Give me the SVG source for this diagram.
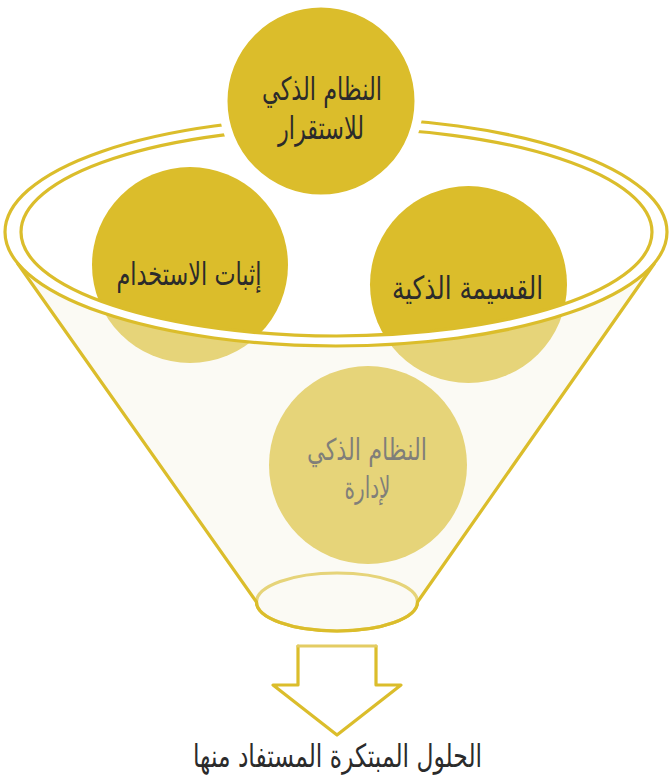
<svg xmlns="http://www.w3.org/2000/svg" width="669" height="779" viewBox="0 0 669 779">
<style>
.gold{fill:#dbbd2b}
.lbl{font-family:"DejaVu Sans Condensed","DejaVu Sans",sans-serif;font-size:32px;fill:#2b2b2b;text-anchor:middle}
.sm{font-size:30px}
.line{fill:none;stroke:#dbbd2b;stroke-width:3.2;stroke-linejoin:round;stroke-linecap:round}
</style>
<rect width="669" height="779" fill="#ffffff"/>
<g id="node-usage">
<circle class="gold" cx="190" cy="265" r="98"/>
<text class="lbl" x="189" y="285" textLength="145" lengthAdjust="spacingAndGlyphs">إثبات الاستخدام</text>
</g>
<g id="node-voucher">
<circle class="gold" cx="468.5" cy="284.5" r="98.5"/>
<text class="lbl" x="467.5" y="299" textLength="151" lengthAdjust="spacingAndGlyphs">القسيمة الذكية</text>
</g>
<g id="node-manage">
<circle class="gold" cx="368" cy="465" r="99"/>
<text class="lbl sm" x="367" y="460" textLength="120" lengthAdjust="spacingAndGlyphs">النظام الذكي</text>
<text class="lbl sm" x="367.5" y="498" textLength="46" lengthAdjust="spacingAndGlyphs">لإدارة</text>
</g>
<g id="funnel">
<ellipse cx="337" cy="602" rx="80.5" ry="29" class="line"/>
<path d="M18,264 L256.5,602 A80.5,29 0 0 0 417.5,602 L654,264 A331,114 0 0 1 18,264 Z" fill="#f5f3e4" fill-opacity="0.42"/>
<path d="M336,118 A331,114 0 1 0 336,346 A331,114 0 1 0 336,118 Z M336.5,128 A315.5,104 0 1 1 336.5,336 A315.5,104 0 1 1 336.5,128 Z" fill="#ffffff" fill-rule="evenodd"/>
<ellipse cx="336" cy="232" rx="331" ry="114" class="line"/>
<ellipse cx="336.5" cy="232" rx="315.5" ry="104" class="line"/>
<path d="M18,264 L256.5,602 A80.5,29 0 0 0 417.5,602 L654,264" class="line"/>
</g>
<g id="node-stability">
<circle class="gold" cx="321" cy="101" r="98" stroke="#ffffff" stroke-width="9"/>
<text class="lbl" x="322" y="100" textLength="120" lengthAdjust="spacingAndGlyphs">النظام الذكي</text>
<text class="lbl" x="321" y="139" textLength="86" lengthAdjust="spacingAndGlyphs">للاستقرار</text>
</g>
<g id="connectors">
<path d="M376,646 L376,685 L401,685 L337,735 L273,685 L298,685 L298,646" class="line"/>
<line x1="298" y1="646" x2="376" y2="646" stroke="#e3cc63" stroke-width="3.2" stroke-linecap="round"/>
</g>
<g id="result">
<text class="lbl" x="337.5" y="767" textLength="289" lengthAdjust="spacingAndGlyphs">الحلول المبتكرة المستفاد منها</text>
</g>
</svg>
